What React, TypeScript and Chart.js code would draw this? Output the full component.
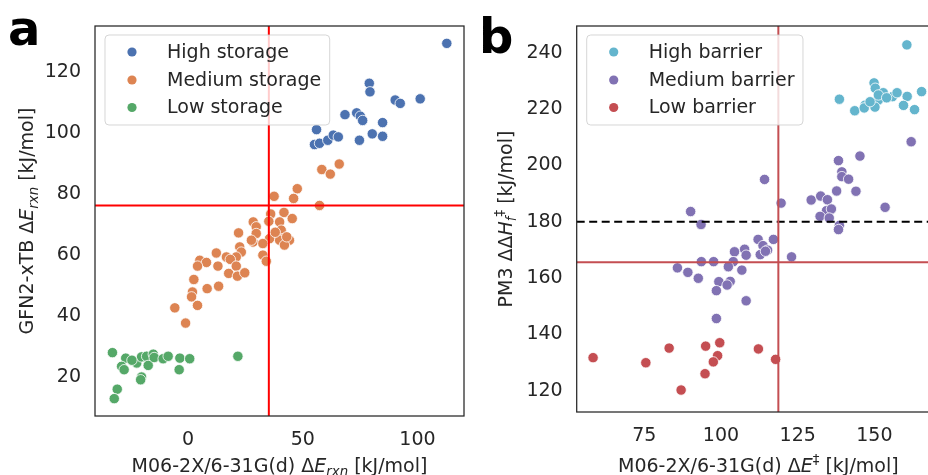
import React, { useEffect, useRef } from "react";
import { Chart, registerables } from "chart.js";
Chart.register(...registerables);

// ---------- Panel a data ----------
const storageLabels = ["High storage", "Medium storage", "Low storage"];
const highStorage: number[][] = [
  [112.8, 129.5], [79.0, 116.4], [79.3, 113.6], [90.3, 110.9], [92.5, 109.8], [101.2, 111.3],
  [68.4, 106.1], [73.5, 106.7], [75.1, 105.6], [76.1, 104.2], [84.8, 103.5], [56.0, 101.2],
  [80.3, 99.8], [84.8, 99.0], [74.7, 97.7], [55.1, 96.3], [57.3, 96.7], [60.9, 97.7],
  [63.3, 99.4], [65.5, 98.8],
];
const mediumStorage: number[][] = [
  [65.9, 89.9], [58.3, 88.1], [62.0, 86.6], [47.6, 81.8], [46.0, 78.6], [57.3, 76.3],
  [37.5, 79.3], [36.0, 73.5], [41.8, 74.0], [45.4, 72.0], [39.9, 70.9], [35.2, 71.1],
  [28.4, 70.9], [29.7, 69.3], [22.0, 67.3], [40.6, 68.2], [37.0, 66.5], [41.3, 65.4],
  [44.2, 64.9], [39.9, 64.9], [35.5, 65.4], [42.0, 63.3], [29.7, 67.1], [28.3, 64.3],
  [32.6, 63.8], [27.6, 64.9], [12.3, 60.7], [16.7, 59.4], [22.5, 62.7], [23.2, 61.0],
  [21.0, 59.4], [18.4, 58.6], [5.1, 58.3], [8.0, 57.6], [4.1, 56.4], [13.0, 56.4],
  [21.0, 56.4], [32.6, 60.0], [34.1, 58.0], [17.7, 54.0], [21.5, 53.1], [24.7, 54.2],
  [2.5, 52.0], [8.3, 49.0], [13.3, 49.8], [1.9, 47.9], [1.5, 46.3], [4.1, 43.5],
  [-5.8, 42.7], [-1.1, 37.7], [38.0, 67.5], [43.0, 66.0],
];
const lowStorage: number[][] = [
  [-33.0, 28.0], [-27.2, 26.2], [-29.0, 23.5], [-27.9, 22.4], [-22.4, 24.6], [-20.3, 26.6],
  [-18.1, 26.8], [-17.4, 23.8], [-15.2, 27.5], [-14.8, 26.4], [-10.9, 26.0], [-8.7, 26.8],
  [-3.6, 26.2], [0.7, 26.0], [-3.9, 22.4], [-20.3, 20.0], [-20.7, 19.1], [-30.9, 16.0],
  [-32.2, 12.9], [21.7, 26.8], [-24.5, 25.5],
];
const xTicksA = [0, 50, 100];
const yTicksA = [20, 40, 60, 80, 100, 120];
const xRangeA = [-40.6, 120.3];
const yRangeA = [7.2, 135.2];
const thresholdXA = 35.2;
const thresholdYA = 76.3;

// ---------- Panel b data ----------
const barrierLabels = ["High barrier", "Medium barrier", "Low barrier"];
const highBarrier: number[][] = [
  [160.6, 242.8], [149.9, 229.3], [150.3, 227.4], [152.9, 225.8], [151.3, 223.2], [155.9, 224.4],
  [157.4, 225.8], [160.7, 224.5], [165.4, 226.2], [138.6, 223.5], [143.6, 219.4], [147.0, 221.4],
  [146.7, 220.4], [150.2, 220.7], [148.6, 222.6], [151.3, 225.0], [159.5, 221.3], [163.1, 219.8],
  [154.0, 224.0],
];
const mediumBarrier: number[][] = [
  [162.0, 208.4], [145.3, 203.3], [138.3, 201.7], [139.4, 197.7], [139.4, 196.0], [141.6, 195.1],
  [137.7, 190.9], [144.0, 190.8], [114.2, 195.0], [129.4, 187.7], [132.5, 189.1], [134.7, 187.8],
  [134.4, 183.9], [136.0, 184.5], [132.3, 181.9], [135.3, 181.3], [138.6, 178.7], [138.3, 177.2],
  [153.5, 185.1], [119.6, 186.6], [90.1, 183.6], [93.5, 179.0], [112.1, 173.7], [113.7, 171.5],
  [115.2, 169.9], [112.8, 168.3], [117.1, 173.7], [123.0, 167.5], [107.7, 170.2], [108.2, 168.1],
  [104.4, 169.3], [104.0, 165.8], [102.4, 164.0], [106.8, 162.8], [97.6, 165.8], [93.6, 165.8],
  [85.8, 163.6], [89.2, 162.0], [92.6, 159.9], [99.3, 158.7], [103.0, 158.8], [102.0, 157.5],
  [98.5, 155.5], [108.2, 151.9], [98.5, 145.6], [114.5, 169.5],
];
const lowBarrier: number[][] = [
  [58.3, 131.7], [75.5, 129.9], [83.1, 135.1], [95.0, 135.8], [99.6, 137.0], [98.9, 132.4],
  [97.5, 130.2], [94.8, 126.0], [87.0, 120.2], [112.2, 134.8], [117.8, 131.1],
];
const xTicksB = [75, 100, 125, 150];
const yTicksB = [120, 140, 160, 180, 200, 220, 240];
const xRangeB = [52.96, 171.4];
const yRangeB = [112.4, 249.5];
const thresholdXB = 118.7;
const thresholdYB = 165.55;
const dashedYB = 180;

// ---------- styling ----------
const FONT = '"DejaVu Sans"';
const TEXT = "#262626";
const FS = 19;

type Seg = { t: string; it?: boolean; s?: "sub" | "sup" };

function drawRich(ctx: CanvasRenderingContext2D, segs: Seg[], cx: number, cy: number, rotate: boolean, size: number) {
  const fontFor = (sg: Seg) => `${sg.it ? "italic " : ""}${sg.s ? size * 0.7 : size}px ${FONT}`;
  const widths = segs.map((sg) => {
    ctx.font = fontFor(sg);
    return ctx.measureText(sg.t).width;
  });
  const total = widths.reduce((a, b) => a + b, 0);
  ctx.save();
  ctx.translate(cx, cy);
  if (rotate) ctx.rotate(-Math.PI / 2);
  ctx.textBaseline = "alphabetic";
  ctx.textAlign = "left";
  ctx.fillStyle = TEXT;
  let x = -total / 2;
  segs.forEach((sg, i) => {
    ctx.font = fontFor(sg);
    const dy = sg.s === "sub" ? size * 0.25 : sg.s === "sup" ? -size * 0.42 : 0;
    ctx.fillText(sg.t, x, dy);
    x += widths[i];
  });
  ctx.restore();
}

type LineSpec = { axis: "x" | "y"; value: number; color: string; width: number; dash?: number[] };
type OverlayCfg = {
  lines: LineSpec[];
  legend: { labels: string[]; colors: string[] };
  xTitle: Seg[];
  yTitle: Seg[];
  yTitleX: number;
  xTitleY: number;
  letter: string;
  letterX: number;
  letterY: number;
};

function makeOverlay(cfg: OverlayCfg) {
  return {
    id: "overlay",
    afterDatasetsDraw(chart: any) {
      const { ctx, chartArea: ca, scales } = chart;
      const xs = scales.x, ys = scales.y;
      ctx.save();
      ctx.beginPath();
      ctx.rect(ca.left, ca.top, ca.right - ca.left, ca.bottom - ca.top);
      ctx.clip();
      cfg.lines.forEach((ln) => {
        ctx.beginPath();
        ctx.strokeStyle = ln.color;
        ctx.lineWidth = ln.width;
        ctx.setLineDash(ln.dash || []);
        if (ln.axis === "x") {
          const px = xs.getPixelForValue(ln.value);
          ctx.moveTo(px, ca.top);
          ctx.lineTo(px, ca.bottom);
        } else {
          const py = ys.getPixelForValue(ln.value);
          ctx.moveTo(ca.left, py);
          ctx.lineTo(ca.right, py);
        }
        ctx.stroke();
      });
      ctx.restore();

      // spines
      ctx.save();
      ctx.strokeStyle = TEXT;
      ctx.lineWidth = 1.25;
      ctx.strokeRect(ca.left, ca.top, ca.right - ca.left, ca.bottom - ca.top);
      ctx.restore();

      // legend
      ctx.save();
      ctx.font = `${FS}px ${FONT}`;
      const bx = ca.left + 10, by = ca.top + 9;
      const markerX = bx + 27, textX = bx + 62;
      const rowY = [by + 17, by + 45, by + 72.5];
      const maxW = Math.max(...cfg.legend.labels.map((l) => ctx.measureText(l).width));
      const bw = textX + maxW + 8.5 - bx, bh = 90;
      const r = 4;
      ctx.beginPath();
      ctx.moveTo(bx + r, by);
      ctx.lineTo(bx + bw - r, by);
      ctx.arcTo(bx + bw, by, bx + bw, by + r, r);
      ctx.lineTo(bx + bw, by + bh - r);
      ctx.arcTo(bx + bw, by + bh, bx + bw - r, by + bh, r);
      ctx.lineTo(bx + r, by + bh);
      ctx.arcTo(bx, by + bh, bx, by + bh - r, r);
      ctx.lineTo(bx, by + r);
      ctx.arcTo(bx, by, bx + r, by, r);
      ctx.closePath();
      ctx.fillStyle = "rgba(255,255,255,0.8)";
      ctx.fill();
      ctx.strokeStyle = "rgba(204,204,204,0.8)";
      ctx.lineWidth = 1;
      ctx.stroke();
      cfg.legend.labels.forEach((lab, i) => {
        ctx.beginPath();
        ctx.arc(markerX, rowY[i], 4.6, 0, Math.PI * 2);
        ctx.fillStyle = cfg.legend.colors[i];
        ctx.fill();
        ctx.fillStyle = TEXT;
        ctx.textBaseline = "middle";
        ctx.textAlign = "left";
        ctx.fillText(lab, textX, rowY[i] + 1);
      });
      ctx.restore();

      // axis titles
      const cxMid = (ca.left + ca.right) / 2;
      const cyMid = (ca.top + ca.bottom) / 2;
      drawRich(ctx, cfg.xTitle, cxMid, cfg.xTitleY, false, FS);
      drawRich(ctx, cfg.yTitle, cfg.yTitleX, cyMid, true, FS);

      // panel letter
      ctx.save();
      ctx.font = `bold 48px ${FONT}`;
      ctx.fillStyle = "#000";
      ctx.textBaseline = "alphabetic";
      ctx.textAlign = "left";
      ctx.fillText(cfg.letter, cfg.letterX, cfg.letterY);
      ctx.restore();
    },
  };
}

function toPts(arr: number[][]) {
  return arr.map(([x, y]) => ({ x, y }));
}

function scatterDs(label: string, arr: number[][], color: string) {
  return {
    label,
    data: toPts(arr),
    backgroundColor: color,
    borderColor: "#ffffff",
    borderWidth: 0.8,
    pointRadius: 5.2,
    pointHoverRadius: 5.2,
  };
}

function makeOptions(xr: number[], yr: number[], xt: number[], yt: number[], yAxisW: number, xAxisH: number, padRight: number) {
  const tickFont = { family: "DejaVu Sans", size: FS };
  return {
    responsive: false,
    animation: false as const,
    events: [] as any[],
    layout: { padding: { left: 0, right: padRight, top: 26, bottom: 0 } },
    plugins: { legend: { display: false }, tooltip: { enabled: false } },
    scales: {
      x: {
        type: "linear" as const,
        min: xr[0],
        max: xr[1],
        grid: { display: false, drawTicks: false },
        border: { display: false },
        ticks: { color: TEXT, font: tickFont, padding: 13, maxRotation: 0 },
        afterBuildTicks: (s: any) => {
          s.ticks = xt.map((v) => ({ value: v }));
        },
        afterFit: (s: any) => {
          s.height = xAxisH;
        },
      },
      y: {
        type: "linear" as const,
        min: yr[0],
        max: yr[1],
        grid: { display: false, drawTicks: false },
        border: { display: false },
        ticks: { color: TEXT, font: tickFont, padding: 14 },
        afterBuildTicks: (s: any) => {
          s.ticks = yt.map((v) => ({ value: v }));
        },
        afterFit: (s: any) => {
          s.width = yAxisW;
        },
      },
    },
  };
}

export default function App() {
  const refA = useRef<HTMLCanvasElement>(null);
  const refB = useRef<HTMLCanvasElement>(null);

  useEffect(() => {
    const chartA = new Chart(refA.current!, {
      type: "scatter",
      data: {
        datasets: [
          scatterDs(storageLabels[0], highStorage, "#4C72B0"),
          scatterDs(storageLabels[1], mediumStorage, "#DD8452"),
          scatterDs(storageLabels[2], lowStorage, "#55A868"),
        ],
      },
      options: makeOptions(xRangeA, yRangeA, xTicksA, yTicksA, 95, 59, 5) as any,
      plugins: [
        makeOverlay({
          lines: [
            { axis: "x", value: thresholdXA, color: "#ff0000", width: 2 },
            { axis: "y", value: thresholdYA, color: "#ff0000", width: 2 },
          ],
          legend: { labels: storageLabels, colors: ["#4C72B0", "#DD8452", "#55A868"] },
          xTitle: [{ t: "M06-2X/6-31G(d) Δ" }, { t: "E", it: true }, { t: "rxn", it: true, s: "sub" }, { t: " [kJ/mol]" }],
          yTitle: [{ t: "GFN2-xTB Δ" }, { t: "E", it: true }, { t: "rxn", it: true, s: "sub" }, { t: " [kJ/mol]" }],
          yTitleX: 33,
          xTitleY: 471.5,
          letter: "a",
          letterX: 8,
          letterY: 45,
        }) as any,
      ],
    });

    const chartB = new Chart(refB.current!, {
      type: "scatter",
      data: {
        datasets: [
          scatterDs(barrierLabels[0], highBarrier, "#64B5CD"),
          scatterDs(barrierLabels[1], mediumBarrier, "#8172B3"),
          scatterDs(barrierLabels[2], lowBarrier, "#C44E52"),
        ],
      },
      options: makeOptions(xRangeB, yRangeB, xTicksB, yTicksB, 106.7, 63, 20) as any,
      plugins: [
        makeOverlay({
          lines: [
            { axis: "y", value: dashedYB, color: "#000000", width: 2, dash: [8, 4.5] },
            { axis: "x", value: thresholdXB, color: "#C44E52", width: 2 },
            { axis: "y", value: thresholdYB, color: "#C44E52", width: 2 },
          ],
          legend: { labels: barrierLabels, colors: ["#64B5CD", "#8172B3", "#C44E52"] },
          xTitle: [{ t: "M06-2X/6-31G(d) Δ" }, { t: "E", it: true }, { t: "‡", s: "sup" }, { t: " [kJ/mol]" }],
          yTitle: [{ t: "PM3 ΔΔ" }, { t: "H", it: true }, { t: "f", it: true, s: "sub" }, { t: "‡", s: "sup" }, { t: " [kJ/mol]" }],
          yTitleX: 41.5,
          xTitleY: 471.5,
          letter: "b",
          letterX: 9,
          letterY: 53,
        }) as any,
      ],
    });

    return () => {
      chartA.destroy();
      chartB.destroy();
    };
  }, []);

  return (
    <div style={{ position: "fixed", left: 0, top: 0, width: 928, height: 475, overflow: "hidden", background: "#fff" }}>
      <canvas ref={refA} width={470} height={475} style={{ position: "absolute", left: 0, top: 0, width: 470, height: 475 }} />
      <canvas ref={refB} width={490} height={475} style={{ position: "absolute", left: 470, top: 0, width: 490, height: 475 }} />
    </div>
  );
}
